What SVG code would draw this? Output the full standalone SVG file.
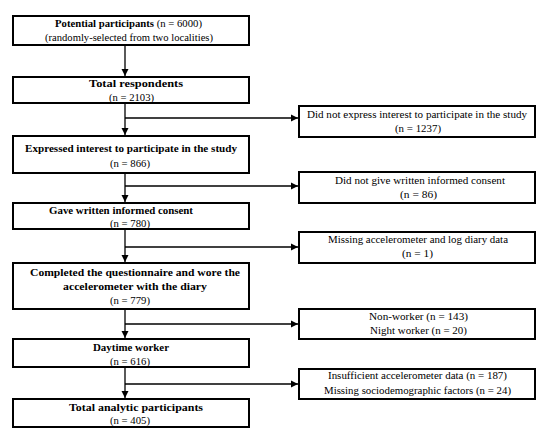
<svg xmlns="http://www.w3.org/2000/svg" width="550" height="440" viewBox="0 0 550 440">
<defs>
<marker id="ah" markerWidth="8" markerHeight="8" refX="7" refY="4" orient="auto" markerUnits="userSpaceOnUse">
<path d="M0,0.5 L7,4 L0,7.5 Z" fill="#000"/>
</marker>
</defs>
<style>
.box{fill:#fff;stroke:#000;stroke-width:2}
.b{font-weight:bold;text-anchor:middle}
.r{text-anchor:middle}
.ln{stroke:#000;stroke-width:1.3;fill:none}
</style>
<rect width="550" height="440" fill="#fff"/>
<g id="connectors">
<path class="ln" d="M125,45 V76" marker-end="url(#ah)"/>
<path class="ln" d="M125,103 V135" marker-end="url(#ah)"/>
<path class="ln" d="M125,173 V202" marker-end="url(#ah)"/>
<path class="ln" d="M125,229 V262" marker-end="url(#ah)"/>
<path class="ln" d="M125,309 V338" marker-end="url(#ah)"/>
<path class="ln" d="M125,367 V398" marker-end="url(#ah)"/>
<path class="ln" d="M125,118 H298" marker-end="url(#ah)"/>
<path class="ln" d="M125,186 H298" marker-end="url(#ah)"/>
<path class="ln" d="M125,247 H298" marker-end="url(#ah)"/>
<path class="ln" d="M125,324 H298" marker-end="url(#ah)"/>
<path class="ln" d="M125,384 H298" marker-end="url(#ah)"/>
</g>
<g font-family="'Liberation Serif', 'DejaVu Serif', serif" font-size="11" lengthAdjust="spacingAndGlyphs">
<g id="n1"><rect class="box" x="13" y="16" width="236" height="29"/>
<text class="r" x="128.5" y="27" textLength="147" lengthAdjust="spacingAndGlyphs"><tspan font-weight="bold">Potential participants</tspan> (n = 6000)</text>
<text class="r" x="129" y="41" textLength="168" lengthAdjust="spacingAndGlyphs">(randomly-selected from two localities)</text></g>
<g id="n2"><rect class="box" x="13" y="77" width="236" height="26"/>
<text class="b" x="136" y="87" textLength="94" lengthAdjust="spacingAndGlyphs">Total respondents</text>
<text class="r" x="131.5" y="101" textLength="45" lengthAdjust="spacingAndGlyphs">(n = 2103)</text></g>
<g id="n3"><rect class="box" x="13" y="136" width="236" height="37"/>
<text class="b" x="131" y="152" textLength="212" lengthAdjust="spacingAndGlyphs">Expressed interest to participate in the study</text>
<text class="r" x="130" y="167" textLength="40" lengthAdjust="spacingAndGlyphs">(n = 866)</text></g>
<g id="n4"><rect class="box" x="13" y="203" width="236" height="26"/>
<text class="b" x="121" y="214" textLength="144" lengthAdjust="spacingAndGlyphs">Gave written informed consent</text>
<text class="r" x="130" y="227" textLength="40" lengthAdjust="spacingAndGlyphs">(n = 780)</text></g>
<g id="n5"><rect class="box" x="13" y="263" width="236" height="46"/>
<text class="b" x="135" y="276" textLength="210" lengthAdjust="spacingAndGlyphs">Completed the questionnaire and wore the</text>
<text class="b" x="135" y="290" textLength="144" lengthAdjust="spacingAndGlyphs">accelerometer with the diary</text>
<text class="r" x="130" y="304" textLength="40" lengthAdjust="spacingAndGlyphs">(n = 779)</text></g>
<g id="n6"><rect class="box" x="13" y="339" width="236" height="28"/>
<text class="b" x="131" y="351" textLength="76" lengthAdjust="spacingAndGlyphs">Daytime worker</text>
<text class="r" x="130" y="365" textLength="40" lengthAdjust="spacingAndGlyphs">(n = 616)</text></g>
<g id="n7"><rect class="box" x="13" y="399" width="236" height="28"/>
<text class="b" x="136" y="411" textLength="134" lengthAdjust="spacingAndGlyphs">Total analytic participants</text>
<text class="r" x="130" y="424" textLength="40" lengthAdjust="spacingAndGlyphs">(n = 405)</text></g>
<g id="r1"><rect class="box" x="299" y="106" width="236" height="31"/>
<text class="r" x="417" y="118" textLength="220" lengthAdjust="spacingAndGlyphs">Did not express interest to participate in the study</text>
<text class="r" x="418" y="132" textLength="46" lengthAdjust="spacingAndGlyphs">(n = 1237)</text></g>
<g id="r2"><rect class="box" x="299" y="172" width="236" height="31"/>
<text class="r" x="420" y="184" textLength="170" lengthAdjust="spacingAndGlyphs">Did not give written informed consent</text>
<text class="r" x="418.5" y="198" textLength="37" lengthAdjust="spacingAndGlyphs">(n = 86)</text></g>
<g id="r3"><rect class="box" x="299" y="232" width="236" height="31"/>
<text class="r" x="418" y="243" textLength="180" lengthAdjust="spacingAndGlyphs">Missing accelerometer and log diary data</text>
<text class="r" x="417.5" y="257" textLength="31" lengthAdjust="spacingAndGlyphs">(n = 1)</text></g>
<g id="r4"><rect class="box" x="299" y="309" width="236" height="30"/>
<text class="r" x="418.5" y="320" textLength="99" lengthAdjust="spacingAndGlyphs">Non-worker (n = 143)</text>
<text class="r" x="418.5" y="334" textLength="97" lengthAdjust="spacingAndGlyphs">Night worker (n = 20)</text></g>
<g id="r5"><rect class="box" x="299" y="369" width="236" height="30"/>
<text class="r" x="417.5" y="379" textLength="179" lengthAdjust="spacingAndGlyphs">Insufficient accelerometer data  (n = 187)</text>
<text class="r" x="417.5" y="394" textLength="187" lengthAdjust="spacingAndGlyphs">Missing sociodemographic factors (n = 24)</text></g>
</g>
</svg>
